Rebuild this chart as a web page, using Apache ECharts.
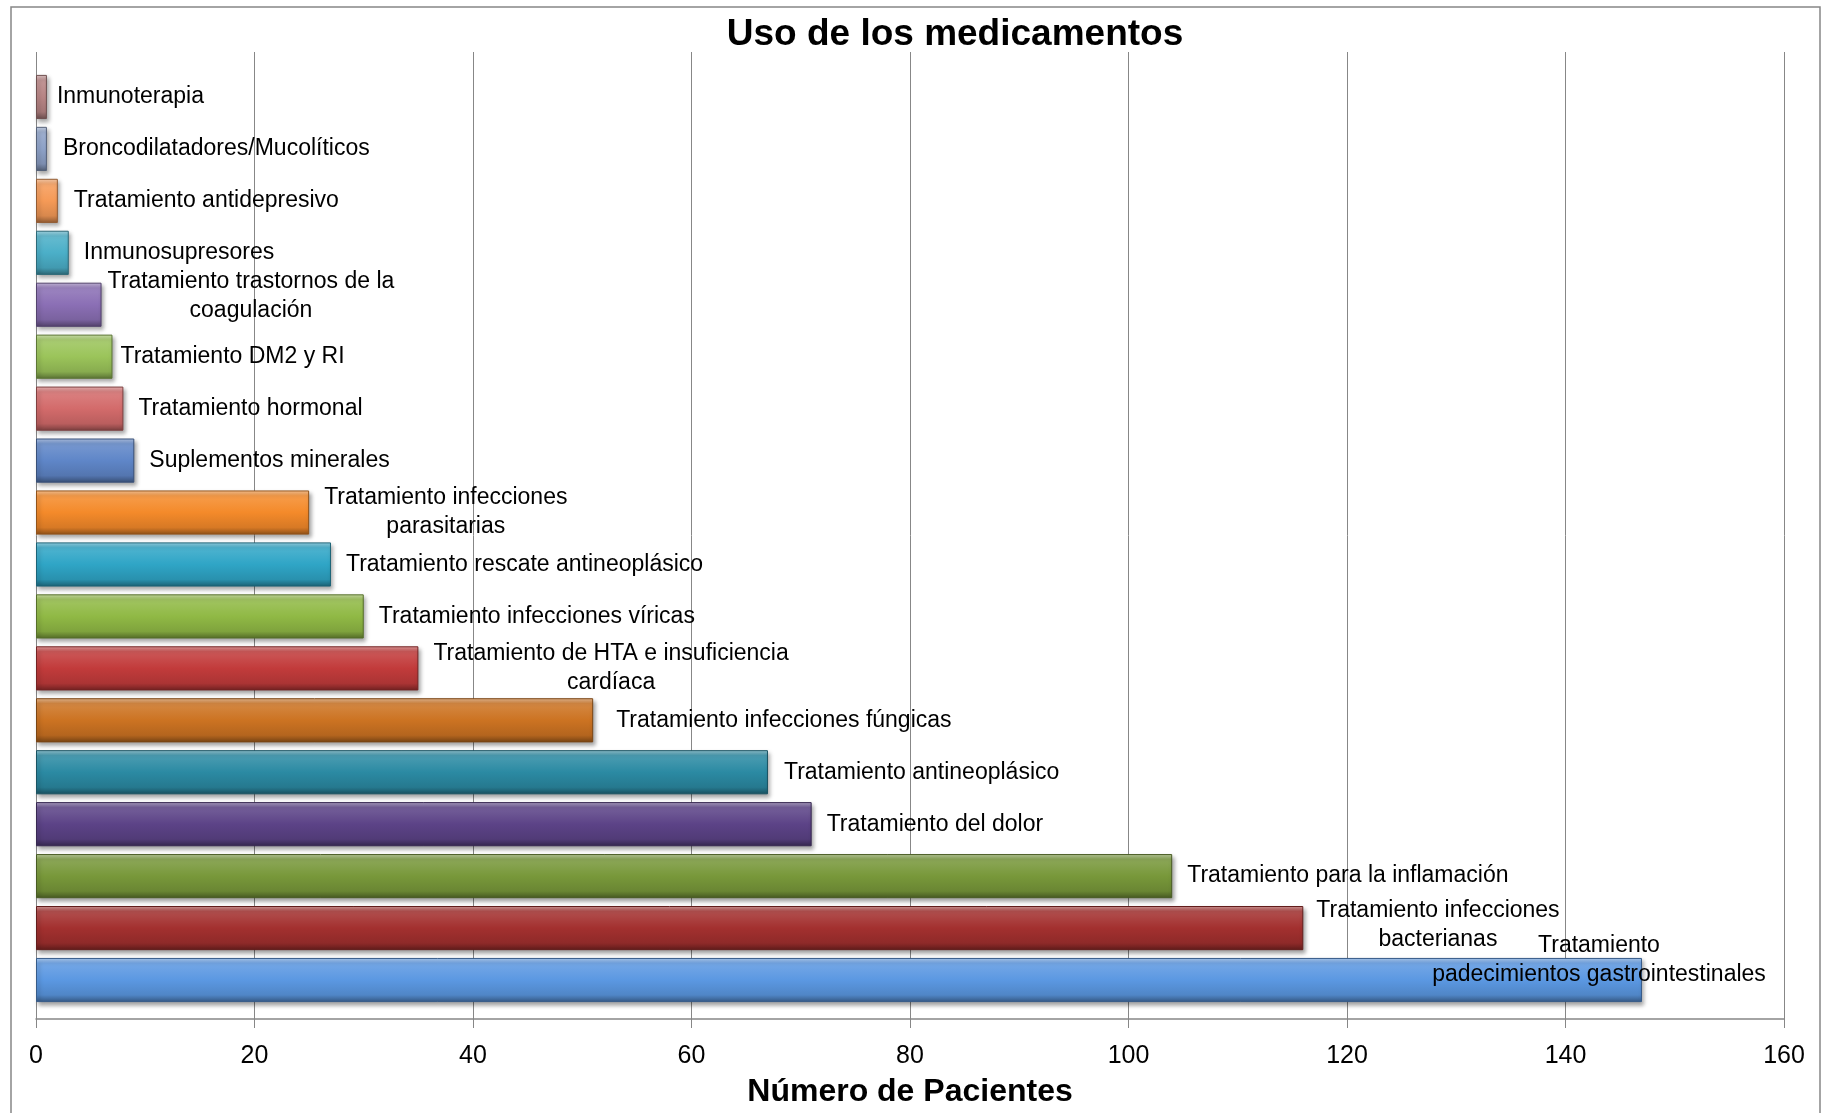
<!DOCTYPE html>
<html>
<head>
<meta charset="utf-8">
<title>Uso de los medicamentos</title>
<script src="https://cdn.jsdelivr.net/npm/echarts@6/dist/echarts.min.js"></script>
<style>
    html, body { margin: 0; padding: 0; background: #fff; }
    #chart { width: 1827px; height: 1113px; }
</style>
</head>
<body>
<div id="chart"></div>
<script>
// categorías, de arriba a abajo (el eje va invertido)
var categories = [
    'Inmunoterapia',
    'Broncodilatadores/Mucolíticos',
    'Tratamiento antidepresivo',
    'Inmunosupresores',
    'Tratamiento trastornos de la\ncoagulación',
    'Tratamiento DM2 y RI',
    'Tratamiento hormonal',
    'Suplementos minerales',
    'Tratamiento infecciones\nparasitarias',
    'Tratamiento rescate antineoplásico',
    'Tratamiento infecciones víricas',
    'Tratamiento de HTA e insuficiencia\ncardíaca',
    'Tratamiento infecciones fúngicas',
    'Tratamiento antineoplásico',
    'Tratamiento del dolor',
    'Tratamiento para la inflamación',
    'Tratamiento infecciones\nbacterianas',
    'Tratamiento\npadecimientos gastrointestinales'
];

// número de pacientes por categoría
var pacientes = [1, 1, 2, 3, 6, 7, 8, 9, 25, 27, 30, 35, 51, 67, 71, 104, 116, 147];

var xTicks = [0, 20, 40, 60, 80, 100, 120, 140, 160];

// colores de cada barra
var barColors = [
    '#B98686', '#8FA3C9', '#F59A57', '#4BAFC8', '#8B6FB5', '#9BC45A',
    '#D36B6B', '#5F86C8', '#F48A2A', '#2FA5C6', '#90B945', '#C23B3B',
    '#CC7322', '#2B8AA3', '#5C4387', '#78983A', '#A3302F', '#5B98E2'
];

// separación etiqueta-barra y desplazamiento vertical (px)
var labelGap = [10, 16, 16, 15, 6, 8, 15, 15, 15, 15, 15, 15, 23, 16, 15, 15, 13, null];
var labelDy  = [0, 0, 0, 0, -9, 0, 0, 0, 0, 0, 0, 0, 0, 0, 0, 0, -3, -20];
var labelCenter = [null, null, null, null, null, null, null, null, null, null, null, null, null, null, null, null, null, -43];

var labelFont = '23px "Liberation Sans", Arial, sans-serif';
var ctx = document.createElement('canvas').getContext('2d');

function textWidth(str) {
    ctx.font = labelFont;
    var w = 0;
    str.split('\n').forEach(function (l) {
        w = Math.max(w, ctx.measureText(l).width);
    });
    return w;
}

function mix(hex, t) {
    var r = parseInt(hex.substr(1, 2), 16),
        g = parseInt(hex.substr(3, 2), 16),
        b = parseInt(hex.substr(5, 2), 16);
    var f = function (c) {
        return Math.round(t > 0 ? c + (255 - c) * t : c * (1 + t));
    };
    return 'rgb(' + f(r) + ',' + f(g) + ',' + f(b) + ')';
}

var myChart = echarts.init(document.getElementById('chart'));

var barData = pacientes.map(function (v, i) {
    var c = barColors[i];
    var w = textWidth(categories[i]);
    var dx = labelCenter[i] != null ? labelCenter[i] : labelGap[i] + w / 2;
    return {
        value: v,
        itemStyle: {
            color: new echarts.graphic.LinearGradient(0, 0, 0, 1, [
                {offset: 0, color: mix(c, 0.5)},
                {offset: 0.12, color: mix(c, 0.15)},
                {offset: 0.5, color: c},
                {offset: 0.84, color: mix(c, -0.12)},
                {offset: 1, color: mix(c, -0.42)}
            ]),
            borderColor: mix(c, -0.4),
            borderWidth: 1
        },
        label: {
            offset: [dx, labelDy[i]]
        }
    };
});

var option = {
    animation: false,
    backgroundColor: '#fff',
    title: {
        text: 'Uso de los medicamentos',
        left: 950,
        top: 11,
        textAlign: 'center',
        textStyle: {
            fontFamily: '"Liberation Sans", Arial, sans-serif',
            fontWeight: 'bold',
            fontSize: 37,
            color: '#000'
        }
    },
    graphic: [{
        type: 'rect',
        shape: {x: 11, y: 7, width: 1809, height: 1200},
        style: {fill: 'none', stroke: '#868686', lineWidth: 1.5},
        silent: true
    }],
    grid: [
        {left: 36, right: 43, top: 52, bottom: 88},
        {left: 36, right: 43, top: 71, bottom: 107}
    ],
    xAxis: [{
        gridIndex: 0,
        type: 'value',
        min: xTicks[0],
        max: xTicks[xTicks.length - 1],
        interval: xTicks[1] - xTicks[0],
        name: 'Número de Pacientes',
        nameLocation: 'middle',
        nameGap: 57,
        nameTextStyle: {
            fontFamily: '"Liberation Sans", Arial, sans-serif',
            fontWeight: 'bold',
            fontSize: 32,
            color: '#000'
        },
        axisLine: {show: true, lineStyle: {color: '#878787', width: 1.5}},
        axisTick: {show: true, length: 9, lineStyle: {color: '#878787', width: 1}},
        axisLabel: {
            margin: 25,
            fontFamily: '"Liberation Sans", Arial, sans-serif',
            fontSize: 25,
            color: '#000'
        },
        splitLine: {show: true, lineStyle: {color: '#878787', width: 1}}
    }, {
        gridIndex: 1,
        type: 'value',
        min: xTicks[0],
        max: xTicks[xTicks.length - 1],
        show: false
    }],
    yAxis: [{
        gridIndex: 0,
        type: 'value',
        show: false
    }, {
        gridIndex: 1,
        type: 'category',
        inverse: true,
        data: categories,
        show: false
    }],
    series: [{
        type: 'bar',
        xAxisIndex: 1,
        yAxisIndex: 1,
        barWidth: '85%',
        data: barData,
        itemStyle: {
            shadowBlur: 4,
            shadowOffsetX: 2,
            shadowOffsetY: 3,
            shadowColor: 'rgba(0,0,0,0.35)'
        },
        label: {
            show: true,
            position: 'right',
            distance: 0,
            align: 'center',
            verticalAlign: 'middle',
            lineHeight: 29,
            formatter: function (p) { return p.name; },
            fontFamily: '"Liberation Sans", Arial, sans-serif',
            fontSize: 23,
            color: '#000'
        }
    }]
};

myChart.setOption(option);
</script>
</body>
</html>
